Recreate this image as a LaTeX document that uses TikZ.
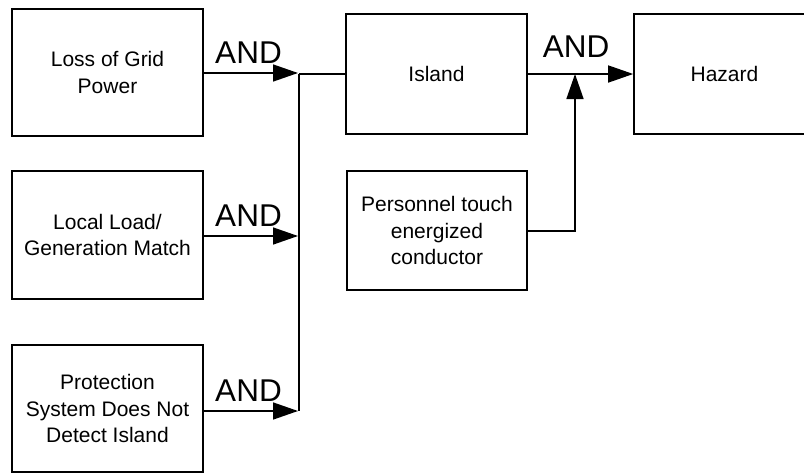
\documentclass[tikz,border=0pt]{standalone}
\usepackage{fontspec}
\setmainfont{Liberation Sans}
\usetikzlibrary{arrows.meta}
\begin{document}
\begin{tikzpicture}[x=1pt,y=-1pt,
  blk/.style={draw, line width=1.6pt, minimum width=#1, inner sep=0pt, align=center,
    font=\fontsize{21}{26.5}\selectfont},
  blk/.default=191pt,
  link/.style={line width=1.5pt},
  arr/.style={link, -{Triangle[length=25pt,width=17pt]}},
  gate/.style={font=\fontsize{31.5}{31.5}\selectfont, inner sep=0pt, anchor=base}]
\useasboundingbox (0,0) rectangle (804,472);
\begin{scope}
\clip (0,0) rectangle (804,472);
% basic events
\node[blk, minimum height=127pt] (loss) at (107.5,72.5) {Loss of Grid\\Power};
\node[blk, minimum height=128pt] (load) at (107.5,235) {Local Load/\\Generation Match};
\node[blk, minimum height=127pt] (prot) at (107.5,408.5) {Protection\\System Does Not\\Detect Island};
% intermediate and top events
\node[blk=181pt, minimum height=120pt] (island) at (436.5,74) {Island};
\node[blk=181pt, minimum height=120pt] (hazard) at (724.5,74) {Hazard};
\node[blk=180pt, minimum height=119pt] (pers) at (437,230.5) {Personnel touch\\energized\\conductor};
% collecting bus
\coordinate (bustop) at (299,74);
\coordinate (busbot) at (299,411);
\coordinate (join) at (575,74);
\draw[arr] (loss.east |- 0,73) -- (298,73);
\draw[arr] (load.east |- 0,236) -- (298,236);
\draw[arr] (prot.east |- 0,411) -- (298,411);
\draw[link] (bustop) -- (busbot);
\draw[link] (bustop) -- (island.west |- bustop);
\draw[arr] (island.east |- join) -- (hazard.west |- join);
\draw[arr] (pers.east |- 0,231) -| (join);
% gate labels
\node[gate] (g1) at (248.5,63) {AND};
\node[gate] (g2) at (248.5,226) {AND};
\node[gate] (g3) at (248.5,401) {AND};
\node[gate] (g4) at (576,57) {AND};
\end{scope}
\end{tikzpicture}
\end{document}
